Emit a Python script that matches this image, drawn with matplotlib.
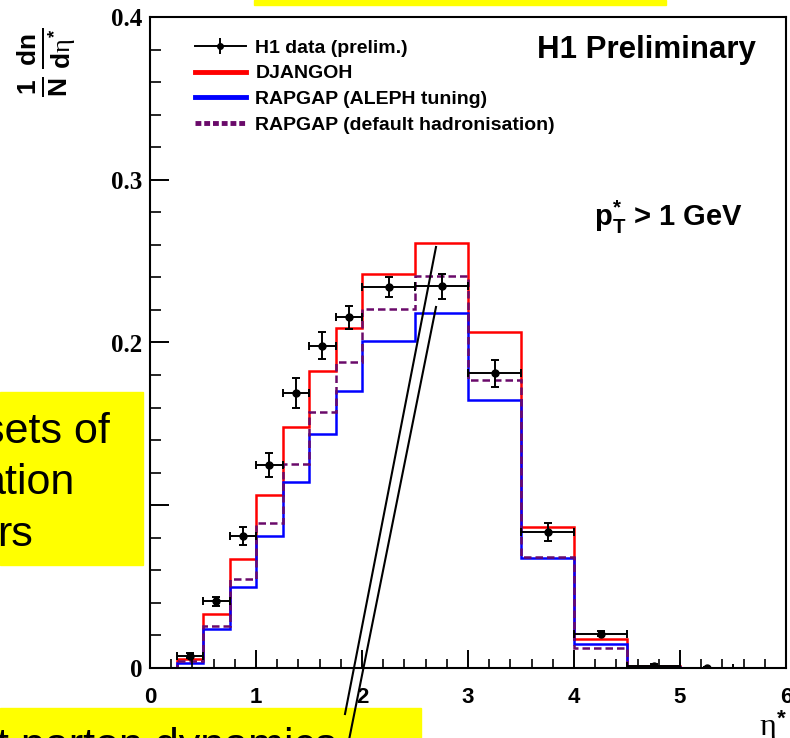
import numpy as np
import matplotlib
matplotlib.use('Agg')
import matplotlib.pyplot as plt
from matplotlib.lines import Line2D
from matplotlib.patches import Rectangle
from matplotlib.ticker import MultipleLocator, FuncFormatter

plt.rcParams['mathtext.fontset'] = 'custom'
plt.rcParams['mathtext.rm'] = 'Liberation Sans:bold'
plt.rcParams['mathtext.bf'] = 'Liberation Sans:bold'
plt.rcParams['mathtext.it'] = 'Liberation Serif'

# bin edges in eta*
edges = [0, 0.25, 0.5, 0.75, 1.0, 1.25, 1.5, 1.75, 2.0, 2.5, 3.0, 3.5, 4.0, 4.5, 5.0, 5.5, 6.0]

djangoh = [0, 0.0055, 0.033, 0.067, 0.106, 0.148, 0.1826, 0.209, 0.242, 0.261, 0.2066, 0.0867, 0.018, 0.0012, 0, 0]
rapgap_aleph = [0, 0.0033, 0.0238, 0.050, 0.081, 0.114, 0.144, 0.170, 0.2007, 0.218, 0.1645, 0.0676, 0.0148, 0.0008, 0, 0]
rapgap_default = [0, 0.0045, 0.026, 0.0548, 0.089, 0.1255, 0.1575, 0.1883, 0.2204, 0.2409, 0.1768, 0.0682, 0.0125, 0.0006, 0, 0]

data_x = [0.375, 0.625, 0.875, 1.125, 1.375, 1.625, 1.875, 2.25, 2.75, 3.25, 3.75, 4.25, 4.75, 5.25]
data_xerr = [0.125, 0.125, 0.125, 0.125, 0.125, 0.125, 0.125, 0.25, 0.25, 0.25, 0.25, 0.25, 0.25, 0.25]
data_y = [0.0076, 0.0409, 0.081, 0.125, 0.1688, 0.198, 0.2155, 0.234, 0.2345, 0.181, 0.0834, 0.0211, 0.0015, 0.0002]
data_yerr = [0.0015, 0.003, 0.0056, 0.0074, 0.0091, 0.0082, 0.0069, 0.0062, 0.0075, 0.0085, 0.0054, 0.0015, 0.0008, 0.0003]

W, H = 790, 738

def fx(x):
    return x / W

def fy(y):
    return 1 - y / H

fig = plt.figure(figsize=(W / 100, H / 100), dpi=100)
ax = fig.add_axes([fx(150), fy(668), 636 / W, 651 / H])

ax.stairs(djangoh, edges, color='red', lw=1.8, baseline=0)
ax.stairs(rapgap_aleph, edges, color='blue', lw=1.8, baseline=0)
ax.stairs(rapgap_default, edges, color='#6a0a6a', lw=1.8, baseline=0,
          linestyle=(0, (3, 1.6)))
ax.errorbar(data_x, data_y, xerr=data_xerr, yerr=data_yerr, fmt='o', color='k',
            ms=5, lw=1.4, capsize=3, capthick=1.4, zorder=5)

ax.set_xlim(0, 6)
ax.set_ylim(0, 0.4)
ax.xaxis.set_major_locator(MultipleLocator(1))
ax.xaxis.set_minor_locator(MultipleLocator(0.2))
ax.yaxis.set_major_locator(MultipleLocator(0.1))
ax.yaxis.set_minor_locator(MultipleLocator(0.02))
ax.yaxis.set_major_formatter(FuncFormatter(lambda v, p: '0' if abs(v) < 1e-9 else '%.1f' % v))

ax.tick_params(which='both', direction='in', top=False, right=False)
ax.tick_params(axis='x', which='major', length=13, width=1.4, pad=13.5, labelsize=16)
ax.tick_params(axis='x', which='minor', length=6.5, width=1.2)
ax.tick_params(axis='y', which='major', length=14, width=1.4, pad=5.5, labelsize=18)
ax.tick_params(axis='y', which='minor', length=8, width=1.2)
for lab in ax.get_xticklabels():
    lab.set_fontfamily('Liberation Sans')
    lab.set_fontweight('bold')
for lab in ax.get_yticklabels():
    lab.set_fontfamily('Liberation Serif')
    lab.set_fontweight('bold')
for sp in ax.spines.values():
    sp.set_linewidth(1.5)

# legend
h_data = (Line2D([], [], color='k', lw=1.4),
          Line2D([], [], color='k', marker='|', ms=12, mew=1.4, ls='none'),
          Line2D([], [], color='k', marker='o', ms=4, ls='none'))
h_dj = Line2D([], [], color='red', lw=3.5)
h_al = Line2D([], [], color='blue', lw=3.5)
h_df = Line2D([], [], color='#6a0a6a', lw=3.5, linestyle=(0, (1.2, 0.6)))
ax.legend([h_data, h_dj, h_al, h_df],
          ['H1 data (prelim.)', 'DJANGOH', 'RAPGAP (ALEPH tuning)', 'RAPGAP (default hadronisation)'],
          loc='upper left', bbox_to_anchor=(fx(195), fy(39)), bbox_transform=fig.transFigure,
          frameon=False, borderpad=0, borderaxespad=0, handlelength=2.6, handletextpad=0.5,
          labelspacing=0.42, prop={'family': 'Liberation Sans', 'weight': 'bold', 'size': 14})

fig.text(fx(756), fy(50), 'H1 Preliminary', ha='right', va='center',
         family='Liberation Sans', weight='bold', fontsize=22.5)
fig.text(fx(743), fy(217), r'$\mathrm{p_{T}^{*}}$ > 1 GeV', ha='right', va='center',
         family='Liberation Sans', weight='bold', fontsize=21)

fig.text(fx(788), fy(727), r'$\eta^{*}$', ha='right', va='center', fontsize=23)
fig.text(fx(46), fy(62), r'$\frac{1}{\mathrm{N}}\,\frac{\mathrm{dn}}{\mathrm{d}\eta^{*}}$',
         rotation=90, ha='center', va='center', fontsize=27)

# yellow slide annotations laid over the plot
fig.add_artist(Rectangle((fx(254), fy(5)), (666 - 254) / W, 5 / H, transform=fig.transFigure,
                         color='yellow', zorder=10))
fig.add_artist(Rectangle((fx(0), fy(565)), 143 / W, (565 - 392) / H, transform=fig.transFigure,
                         color='yellow', zorder=10))
fig.add_artist(Rectangle((fx(0), fy(740)), 421 / W, (740 - 708) / H, transform=fig.transFigure,
                         color='yellow', zorder=10))

box_lines = ['sets of', 'ation', 'rs']
box_right = [110, 74, 33]
box_base = [443, 494, 546]
for t, xr, yb in zip(box_lines, box_right, box_base):
    fig.text(fx(xr), fy(yb), t, ha='right', va='baseline', family='Liberation Sans',
             fontsize=31, zorder=11)
fig.text(fx(337), fy(758), 't parton dynamics', ha='right', va='baseline',
         family='Liberation Sans', fontsize=31, zorder=11)

fig.add_artist(Line2D([fx(345), fx(436)], [fy(714), fy(247)], transform=fig.transFigure,
                      color='k', lw=1.5, zorder=12))
fig.add_artist(Line2D([fx(349), fx(436)], [fy(740), fy(307)], transform=fig.transFigure,
                      color='k', lw=1.5, zorder=12))

fig.savefig('out.png', dpi=100)
